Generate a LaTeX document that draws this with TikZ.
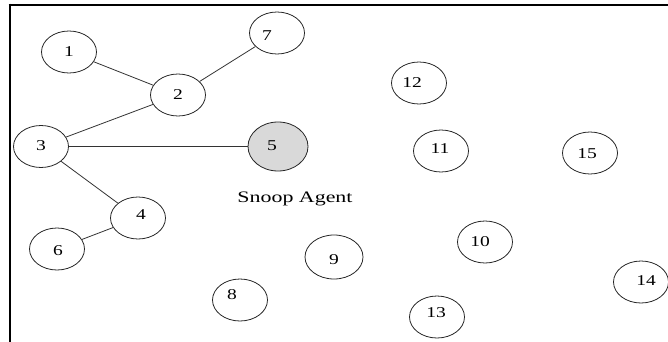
\documentclass[tikz,border=0pt]{standalone}
\usepackage{fontspec}
\setmainfont{Liberation Serif}
\usepackage{graphicx}
\usetikzlibrary{shapes.geometric}
\newcommand{\wdtxt}[2]{\scalebox{#1}[1]{#2}}
\tikzset{
  nd/.style={ellipse, draw=black!85, line width=0.8pt, minimum width=55pt, minimum height=42pt, inner sep=0pt},
  big/.style={nd, minimum width=60pt, minimum height=49pt, fill=black!15},
  lbl/.style={font=\fontsize{15}{18}\selectfont, text=black},
  edge/.style={draw=black!80, line width=0.8pt},
  frame/.style={line width=2.8pt, black}
}
\begin{document}
\begin{tikzpicture}[x=1pt,y=-1pt]
\useasboundingbox (0,0) rectangle (668,342);
\draw[frame] (8.6,5) -- (668,5);
\draw[frame] (10,3.6) -- (10,342);
\node[nd, label={[lbl]center:\wdtxt{1.3}{1}}] (n1) at (69,52) {};
\node[nd, label={[lbl]center:\wdtxt{1.3}{2}}] (n2) at (178,95) {};
\node[nd, label={[lbl, shift={(0pt,0.5pt)}]center:\wdtxt{1.3}{3}}] (n3) at (41,146.5) {};
\node[nd, label={[lbl, shift={(3pt,3pt)}]center:\wdtxt{1.3}{4}}] (n4) at (138,218) {};
\node[big, label={[lbl, shift={(-6pt,0.5pt)}]center:\wdtxt{1.3}{5}}] (n5) at (278,146.5) {};
\node[nd, label={[lbl, shift={(1pt,-2pt)}]center:\wdtxt{1.3}{6}}] (n6) at (57,249) {};
\node[nd, label={[lbl, shift={(-10pt,-3pt)}]center:\wdtxt{1.3}{7}}] (n7) at (277,33) {};
\node[nd, label={[lbl, shift={(-8pt,5pt)}]center:\wdtxt{1.3}{8}}] (n8) at (240,300) {};
\node[nd, minimum width=58pt, minimum height=44pt, label={[lbl, shift={(0pt,-3pt)}]center:\wdtxt{1.3}{9}}] (n9) at (334,257) {};
\node[nd, label={[lbl, shift={(-5pt,0pt)}]center:\wdtxt{1.3}{10}}] (n10) at (485,242) {};
\node[nd, label={[lbl, shift={(-1pt,2pt)}]center:\wdtxt{1.3}{11}}] (n11) at (441,151) {};
\node[nd, label={[lbl, shift={(-7pt,0pt)}]center:\wdtxt{1.3}{12}}] (n12) at (419,83) {};
\node[nd, label={[lbl, shift={(-1pt,4pt)}]center:\wdtxt{1.3}{13}}] (n13) at (437,317) {};
\node[nd, label={[lbl, shift={(5pt,1pt)}]center:\wdtxt{1.3}{14}}] (n14) at (641,282) {};
\node[nd, label={[lbl, shift={(-3pt,-1pt)}]center:\wdtxt{1.3}{15}}] (n15) at (590,153) {};
\node[font=\fontsize{16}{19}\selectfont, text=black, anchor=base, inner sep=0pt] (snoop) at (295,202) {\wdtxt{1.37}{Snoop Agent}};
\draw[edge] (n1) -- (n2);
\draw[edge] (n2) -- (n7);
\draw[edge] (n3) -- (n2);
\draw[edge] (n3) -- (n5);
\draw[edge] (n3) -- (n4);
\draw[edge] (n4) -- (n6);
\end{tikzpicture}
\end{document}
